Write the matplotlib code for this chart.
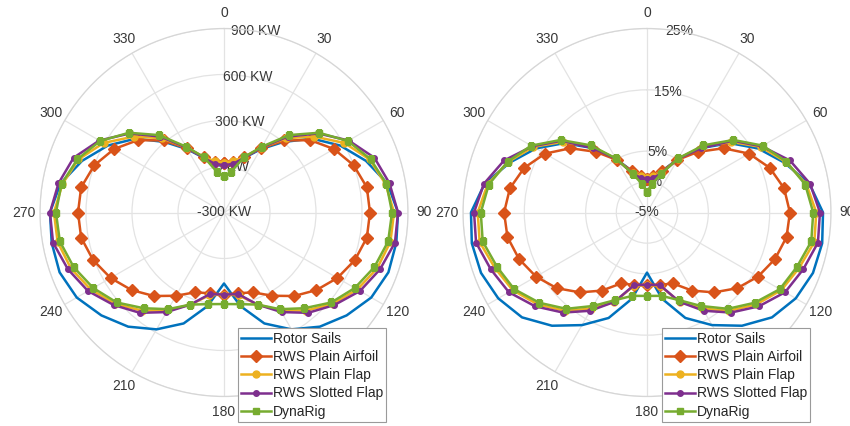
import numpy as np
import matplotlib
matplotlib.use("Agg")
import matplotlib.pyplot as plt

plt.rcParams['font.family'] = ['Liberation Sans', 'DejaVu Sans']

# angles (degrees), clockwise from top
angles = [0, 10, 20, 30, 40, 50, 60, 70, 80, 90, 100, 110, 120, 130, 140, 150, 160, 170, 180,
          190, 200, 210, 220, 230, 240, 250, 260, 270, 280, 290, 300, 310, 320, 330, 340, 350, 360]

series_names = ["Rotor Sails", "RWS Plain Airfoil", "RWS Plain Flap", "RWS Slotted Flap", "DynaRig"]

# Left panel: power savings (KW)
kw_rotor = [-6, 26, 78, 176, 300, 450, 574, 685, 783, 835, 841, 841, 809, 744, 672, 580, 470, 320, 163,
            320, 470, 580, 672, 744, 809, 841, 841, 835, 783, 685, 574, 450, 300, 176, 78, 26, -6]
kw_airfoil = [20, 33, 85, 183, 313, 434, 528, 600, 646, 652, 646, 608, 554, 487, 411, 327, 254, 235, 235,
              235, 254, 327, 411, 487, 554, 608, 646, 652, 646, 600, 528, 434, 313, 183, 85, 33, 20]
kw_plainflap = [26, 39, 85, 189, 333, 470, 607, 711, 770, 809, 802, 763, 704, 626, 535, 437, 339, 248, 235,
                248, 339, 437, 535, 626, 704, 763, 802, 809, 770, 711, 607, 470, 333, 189, 85, 39, 26]
kw_slotted = [10, 20, 78, 189, 346, 502, 639, 744, 796, 835, 832, 783, 724, 639, 554, 450, 339, 241, 235,
              241, 339, 450, 554, 639, 724, 783, 832, 835, 796, 744, 639, 502, 346, 189, 78, 20, 10]
kw_dynarig = [-65, -29, 85, 196, 359, 509, 633, 717, 776, 796, 787, 743, 685, 613, 515, 428, 339, 307, 297,
              307, 339, 428, 515, 613, 685, 743, 787, 796, 776, 717, 633, 509, 359, 196, 85, -29, -65]

# Right panel: savings (%)
pct_rotor = [0.2, 0.9, 2.2, 5.1, 8.7, 12.6, 15.9, 18.8, 21.9, 23.7, 24.0, 23.8, 23.0, 21.6, 19.1, 16.2, 13.3, 9.3, 4.8,
             9.3, 13.3, 16.2, 19.1, 21.6, 23.0, 23.8, 24.0, 23.7, 21.9, 18.8, 15.9, 12.6, 8.7, 5.1, 2.2, 0.9, 0.2]
pct_airfoil = [0.4, 1.0, 2.2, 4.9, 7.9, 11.3, 14.2, 16.3, 17.7, 18.3, 18.1, 17.2, 15.9, 14.2, 12.0, 9.7, 7.3, 7.0, 6.8,
               7.0, 7.3, 9.7, 12.0, 14.2, 15.9, 17.2, 18.1, 18.3, 17.7, 16.3, 14.2, 11.3, 7.9, 4.9, 2.2, 1.0, 0.4]
pct_plainflap = [0.7, 1.0, 1.8, 5.1, 9.0, 12.9, 16.4, 19.1, 21.4, 22.6, 22.7, 21.4, 20.3, 18.3, 15.9, 13.1, 10.5, 7.1, 6.9,
                 7.1, 10.5, 13.1, 15.9, 18.3, 20.3, 21.4, 22.7, 22.6, 21.4, 19.1, 16.4, 12.9, 9.0, 5.1, 1.8, 1.0, 0.7]
pct_slotted = [0.5, 0.7, 1.8, 5.1, 8.7, 13.2, 16.6, 19.8, 22.0, 23.2, 23.3, 22.1, 21.0, 18.8, 16.3, 13.5, 10.5, 7.0, 6.8,
               7.0, 10.5, 13.5, 16.3, 18.8, 21.0, 22.1, 23.3, 23.2, 22.0, 19.8, 16.6, 13.2, 8.7, 5.1, 1.8, 0.7, 0.5]
pct_dynarig = [-1.6, -0.3, 1.7, 5.2, 9.3, 13.4, 16.8, 19.2, 21.2, 22.1, 22.2, 21.0, 20.0, 17.9, 15.5, 12.6, 10.2, 8.8, 8.6,
               8.8, 10.2, 12.6, 15.5, 17.9, 20.0, 21.0, 22.2, 22.1, 21.2, 19.2, 16.8, 13.4, 9.3, 5.2, 1.7, -0.3, -1.6]

theta_ticks = [0, 30, 60, 90, 120, 150, 180, 210, 240, 270, 300, 330]
kw_ticks = [-300, 0, 300, 600, 900]
kw_labels = ["-300 KW", "0 KW", "300 KW", "600 KW", "900 KW"]
pct_ticks = [-5, 0, 5, 15, 25]
pct_labels = ["-5%", "0%", "5%", "15%", "25%"]

colors = ["#0072BD", "#D95319", "#EDB120", "#7E2F8E", "#77AC30"]
markers = [None, "D", "o", "o", "s"]
msizes = [0, 6, 5, 4, 5]

W, H = 850, 426
fig = plt.figure(figsize=(W / 100, H / 100), dpi=100)
R = 184


def make_axes(cx, cy):
    return fig.add_axes([(cx - R) / W, (H - cy - R) / H, 2 * R / W, 2 * R / H], projection='polar')


def style(ax, rlim, rticks, rlabels, data):
    ax.set_theta_zero_location('N')
    ax.set_theta_direction(-1)
    ax.set_axisbelow(True)
    th = np.deg2rad(angles)
    for vals, c, m, ms, name in zip(data, colors, markers, msizes, series_names):
        ax.plot(th, vals, color=c, lw=1.8, marker=m, ms=ms, mfc=c, mec=c,
                label=name, zorder=3)
    ax.set_ylim(*rlim)
    ax.set_yticks(rticks)
    ax.set_yticklabels([])
    ax.set_xticks(np.deg2rad(theta_ticks))
    ax.set_xticklabels([str(t) for t in theta_ticks], fontsize=10, color='#383838')
    ax.tick_params(axis='x', pad=1)
    ax.grid(True, color='#e3e3e3', lw=0.9)
    ax.spines['polar'].set_color('#d6d6d6')
    ax.spines['polar'].set_linewidth(0.9)
    for v, lab in zip(rticks, rlabels):
        ax.text(np.deg2rad(10), v, lab, ha='center', va='center', fontsize=10,
                color='#383838', zorder=1)


ax1 = make_axes(224, 212.5)
style(ax1, (-300, 900), kw_ticks, kw_labels,
      [kw_rotor, kw_airfoil, kw_plainflap, kw_slotted, kw_dynarig])
ax2 = make_axes(647, 212.5)
style(ax2, (-5, 25), pct_ticks, pct_labels,
      [pct_rotor, pct_airfoil, pct_plainflap, pct_slotted, pct_dynarig])

for ax, x0 in [(ax1, 238), (ax2, 662)]:
    leg = ax.legend(loc='lower left', bbox_to_anchor=(x0 / W, 4 / H), bbox_transform=fig.transFigure,
                    fontsize=10, frameon=True, fancybox=False, framealpha=1, edgecolor='#9a9a9a',
                    borderpad=0.25, labelspacing=0.3, handlelength=2.1, handletextpad=0.15,
                    borderaxespad=0, numpoints=1)
    leg.get_frame().set_linewidth(0.8)
    leg.set_zorder(10)
    for t in leg.get_texts():
        t.set_color('#262626')

fig.savefig("out.png", dpi=100)
